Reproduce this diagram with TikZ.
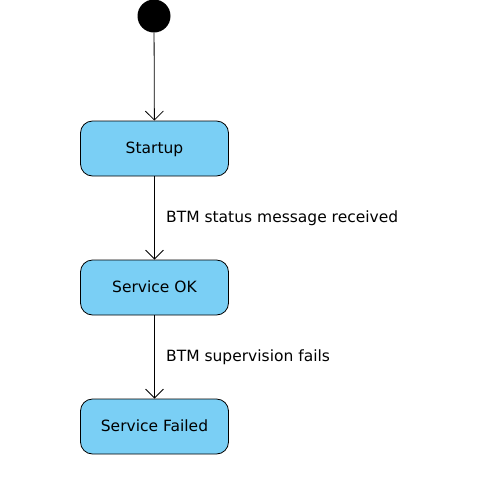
\documentclass[tikz,border=0pt]{standalone}
\usepackage{fontspec}
\setmainfont{DejaVu Sans}
\usetikzlibrary{arrows.meta}
\definecolor{stfill}{HTML}{7ACFF5}
\tikzset{
  x=1pt, y=-1pt,
  state/.style={draw=black, fill=stfill, rounded corners=12pt, minimum width=148pt, minimum height=55pt, inner sep=0pt, text depth=1pt, font=\fontsize{15.5pt}{18pt}\selectfont, line width=0.8pt},
  trans/.style={draw=black, line width=0.8pt, -{Straight Barb[length=9pt,width=18pt,line width=0.8pt]}},
  lbl/.style={anchor=west, inner sep=0pt, font=\fontsize{15.5pt}{18pt}\selectfont},
  initial/.style={circle, fill=black, minimum size=33pt, inner sep=0pt}
}
\begin{document}
\begin{tikzpicture}
\useasboundingbox (0,0) rectangle (480,480);
\node[initial] (init) at (154,16) {};
\node[state] (startup) at (154.5,148.5) {Startup};
\node[state] (ok) at (154.5,287.5) {Service OK};
\node[state] (failed) at (154.5,426.5) {Service Failed};
\draw[trans] (init) -- (startup);
\draw[trans] (startup) -- (ok);
\draw[trans] (ok) -- (failed);
\node[lbl] (l1) at (166,218) {BTM status message received};
\node[lbl] (l2) at (166,357) {BTM supervision fails};
\end{tikzpicture}
\end{document}
